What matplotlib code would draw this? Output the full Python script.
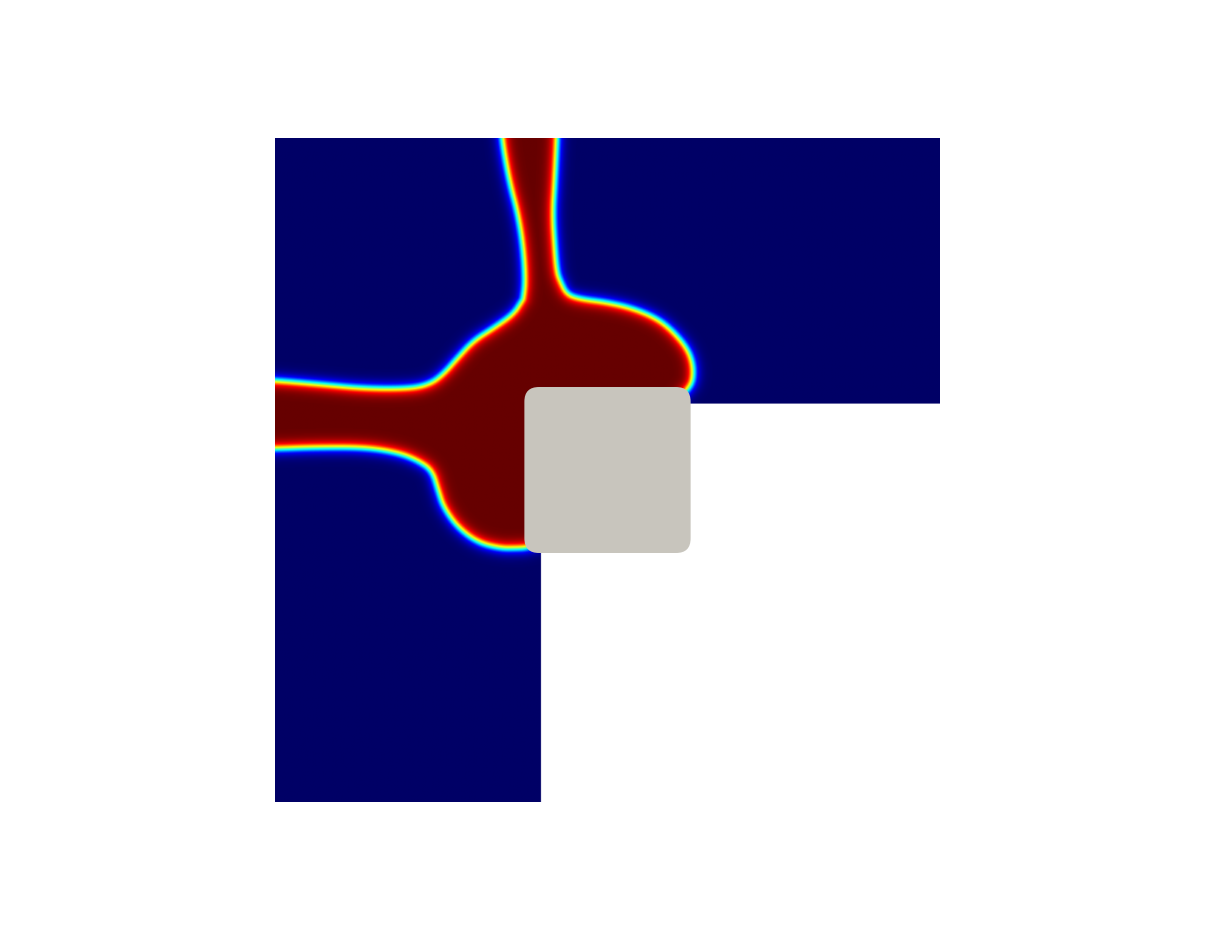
import numpy as np
import matplotlib
matplotlib.use("Agg")
import matplotlib.pyplot as plt
from matplotlib.path import Path
from matplotlib.patches import FancyBboxPatch
from matplotlib.colors import LinearSegmentedColormap

# interface lines of the red phase (domain units, y upward)
# A: left side of the neck down to the left boundary (top of the left arm)
curve_a_x = [0.340, 0.341, 0.352, 0.365, 0.373, 0.376, 0.373, 0.371, 0.358, 0.328, 0.298,
             0.274, 0.253, 0.233, 0.203, 0.135, 0.060, 0.0, -0.03]
curve_a_y = [1.03, 0.998, 0.935, 0.886, 0.835, 0.785, 0.759, 0.755, 0.735, 0.714, 0.695,
             0.669, 0.645, 0.630, 0.623, 0.623, 0.630, 0.635, 0.636]
# B: bottom of the left arm, bulge, down to the obstacle
curve_b_x = [-0.03, 0.0, 0.060, 0.135, 0.185, 0.215, 0.236, 0.245, 0.253, 0.274, 0.304,
             0.338, 0.364, 0.379, 0.40]
curve_b_y = [0.532, 0.532, 0.534, 0.534, 0.526, 0.514, 0.499, 0.469, 0.444, 0.414, 0.391,
             0.382, 0.382, 0.383, 0.39]
# C: from the obstacle corner round the right lobe and up the neck
curve_c_x = [0.60, 0.620, 0.629, 0.629, 0.620, 0.598, 0.574, 0.538, 0.499, 0.459, 0.439,
             0.429, 0.424, 0.421, 0.418, 0.421, 0.424, 0.425]
curve_c_y = [0.60, 0.620, 0.635, 0.660, 0.684, 0.710, 0.729, 0.744, 0.753, 0.758, 0.765,
             0.785, 0.800, 0.835, 0.886, 0.935, 0.998, 1.03]

# L-shaped domain and the obstacle
corner_x, corner_y = 0.4, 0.6
obstacle = (0.375, 0.375, 0.25, 0.25)


def chaikin(c, it=3):
    # corner cutting, only to draw the outline smooth
    for _ in range(it):
        q = 0.75 * c[:-1] + 0.25 * c[1:]
        r = 0.25 * c[:-1] + 0.75 * c[1:]
        mid = np.empty((2 * len(q), 2))
        mid[0::2] = q
        mid[1::2] = r
        c = np.vstack([c[:1], mid, c[-1:]])
    return c


curves = [chaikin(np.column_stack([curve_a_x, curve_a_y])),
          chaikin(np.column_stack([curve_b_x, curve_b_y])),
          chaikin(np.column_stack([curve_c_x, curve_c_y]))]
poly = np.vstack(curves[0:2] + [[[0.5, 0.5]]] + curves[2:])

n = 900
xs = np.linspace(0, 1, n)
ys = np.linspace(0, 1, n)
X, Y = np.meshgrid(xs, ys)
pts = np.column_stack([X.ravel(), Y.ravel()])

dist = np.full(len(pts), np.inf)
for c in curves:
    for p0, p1 in zip(c[:-1], c[1:]):
        d = p1 - p0
        t = np.clip(((pts - p0) @ d) / (d @ d), 0, 1)
        proj = p0 + t[:, None] * d
        dist = np.minimum(dist, np.hypot(*(pts - proj).T))

inside = Path(poly).contains_points(pts)
sd = np.where(inside, -dist, dist).reshape(n, n)
eps = 0.0105
phi = 0.5 * (1 - np.tanh(sd / eps))
phi = np.ma.masked_where((X > corner_x) & (Y < corner_y), phi)

cmap = LinearSegmentedColormap.from_list(
    "pv_jet", ["#000066", "#0000ff", "#00ffff", "#ffff00", "#ff0000", "#660000"])
cmap.set_bad("white")

fig = plt.figure(figsize=(12.16, 9.41), dpi=100)
ax = fig.add_axes([275 / 1216, 139 / 941, 665 / 1216, 664 / 941])
ax.imshow(phi, origin="lower", extent=(0, 1, 0, 1), cmap=cmap, vmin=0, vmax=1,
          interpolation="bilinear", aspect="auto")
ox, oy, ow, oh = obstacle
r = 0.022
ax.add_patch(FancyBboxPatch((ox + r, oy + r), ow - 2 * r, oh - 2 * r,
                            boxstyle="round,pad=%f" % r, fc="#c8c5bd", ec="none",
                            zorder=3, clip_on=False))
ax.set_xlim(0, 1)
ax.set_ylim(0, 1)
ax.axis("off")

fig.savefig("out.png", dpi=100)
